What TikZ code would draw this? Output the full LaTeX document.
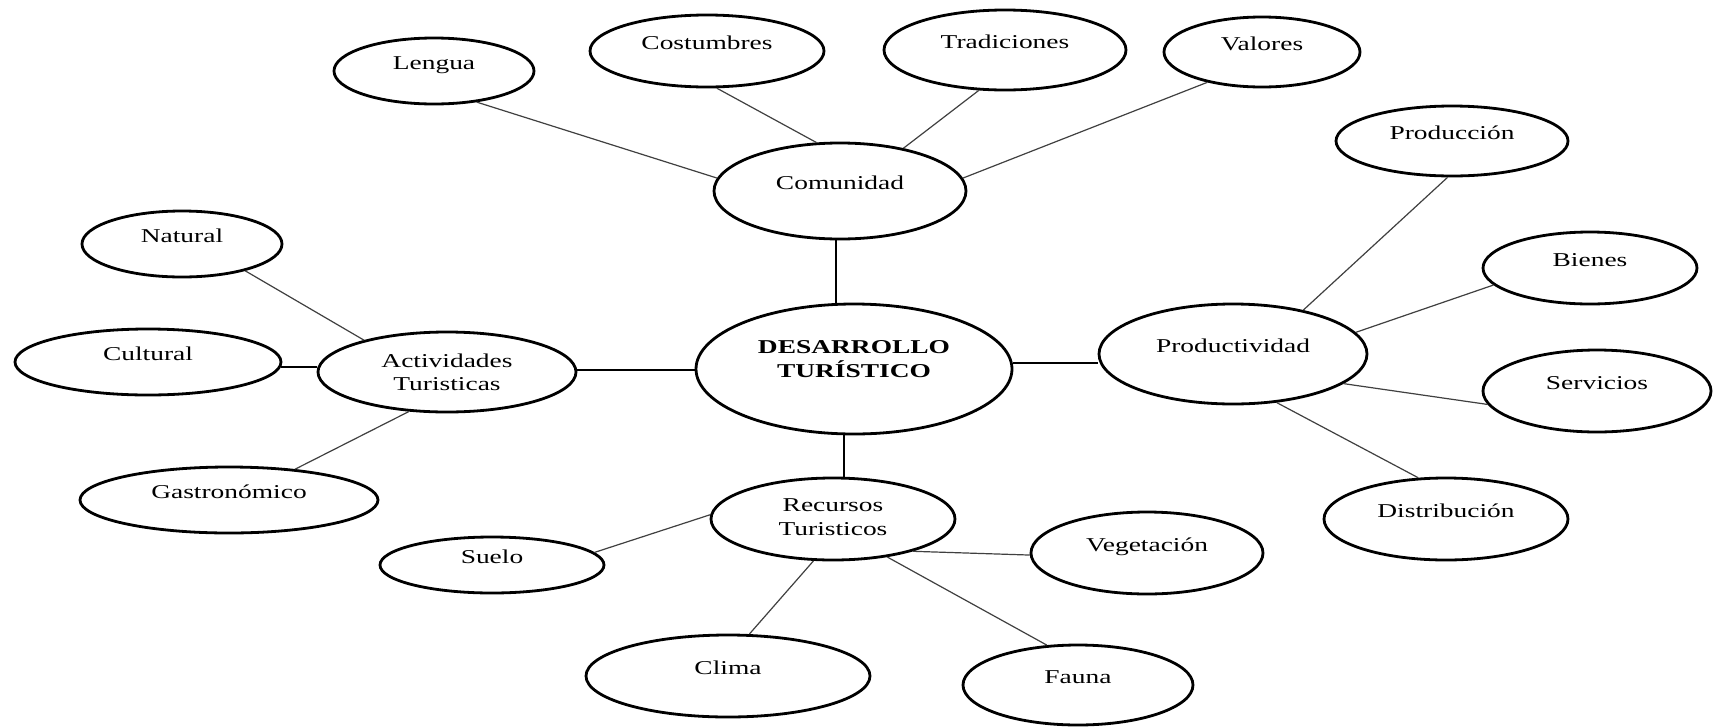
\documentclass[tikz,border=0pt]{standalone}
\usepackage{fontspec}
\setmainfont{Liberation Serif}[FakeStretch=1.4]
\usetikzlibrary{shapes.geometric}
\newcommand{\fsz}{\fontsize{19.6}{23.5}\selectfont}
\begin{document}
\begin{tikzpicture}[x=1pt,y=-1pt,
  ell/.style={ellipse, draw, line width=2.8pt, inner sep=0pt, font=\fsz},
  one/.style={ell, text height=12pt, text depth=15pt},
  thinline/.style={draw=black!75, line width=1.2pt},
  thickline/.style={draw=black, line width=2pt}]
\fill[white] (0,0) rectangle (1716,726);
\useasboundingbox (0,0) rectangle (1716,726);

\node[one, minimum width=200pt, minimum height=66pt] (lengua) at (434,71) {Lengua};
\node[one, minimum width=234pt, minimum height=72pt] (costumbres) at (707,51) {Costumbres};
\node[one, minimum width=242pt, minimum height=80pt] (tradiciones) at (1005,50) {Tradiciones};
\node[one, minimum width=196pt, minimum height=70pt] (valores) at (1262,52) {Valores};
\node[one, minimum width=252pt, minimum height=96pt] (comunidad) at (840,191) {Comunidad};
\node[one, minimum width=232pt, minimum height=70pt] (produccion) at (1452,141) {Producción};
\node[one, minimum width=214pt, minimum height=72pt] (bienes) at (1590,268) {Bienes};
\node[one, minimum width=200pt, minimum height=66pt] (natural) at (182,244) {Natural};
\node[one, minimum width=266pt, minimum height=66pt] (cultural) at (148,362) {Cultural};
\node[ell, minimum width=258pt, minimum height=80pt, text height=20pt, text depth=4.6pt] (actividades) at (447,372) {\begin{tabular}{@{}c@{}}Actividades\\Turisticas\end{tabular}};
\node[ell, minimum width=316pt, minimum height=130pt, text height=8pt, text depth=13.6pt, font=\fsz\bfseries] (desarrollo) at (854,369) {\begin{tabular}{@{}c@{}}DESARROLLO\\TURÍSTICO\end{tabular}};
\node[one, minimum width=268pt, minimum height=100pt] (productividad) at (1233,354) {Productividad};
\node[one, minimum width=228pt, minimum height=82pt] (servicios) at (1597,391) {Servicios};
\node[one, minimum width=244pt, minimum height=82pt] (distribucion) at (1446,519) {Distribución};
\node[one, minimum width=298pt, minimum height=66pt] (gastronomico) at (229,500) {Gastronómico};
\node[ell, minimum width=244pt, minimum height=82pt, text height=16pt, text depth=5.6pt] (recursos) at (833,519) {\begin{tabular}{@{}c@{}}Recursos\\Turisticos\end{tabular}};
\node[one, minimum width=224pt, minimum height=56pt] (suelo) at (492,565) {Suelo};
\node[one, minimum width=284pt, minimum height=82pt] (clima) at (728,676) {Clima};
\node[one, minimum width=232pt, minimum height=82pt] (vegetacion) at (1147,553) {Vegetación};
\node[one, minimum width=230pt, minimum height=80pt] (fauna) at (1078,685) {Fauna};

\draw[thinline] (lengua.-36) -- (comunidad.174);
\draw[thinline] (costumbres.-75) -- (comunidad.116);
\draw[thinline] (tradiciones.-123) -- (comunidad.34);
\draw[thinline] (valores.-151) -- (comunidad.6);
\draw[thickline] (comunidad.-95) -- (comunidad.-95 |- desarrollo.north);
\draw[thinline] (natural.-23) -- (actividades.159);
\draw[thickline] (cultural.-2.6) -- (cultural.-2.6 -| actividades.west);
\draw[thinline] (actividades.-134) -- (gastronomico.25);
\draw[thickline] (actividades.1.8) -- (actividades.1.8 -| desarrollo.west);
\draw[thickline] (desarrollo.2.6) -- (desarrollo.2.6 -| productividad.west);
\draw[thickline] (recursos.75) -- (recursos.75 |- desarrollo.south);
\draw[thinline] (produccion.-97) -- (productividad.32);
\draw[thinline] (bienes.190.8) -- (productividad.10);
\draw[thinline] (productividad.-15) -- (servicios.187.6);
\draw[thinline] (productividad.-48.5) -- (distribucion.124);
\draw[thinline] (recursos.178) -- (suelo.7);
\draw[thinline] (recursos.-115) -- (clima.63);
\draw[thinline] (recursos.-22) -- (vegetacion.181.5);
\draw[thinline] (recursos.-35.5) -- (fauna.128);
\end{tikzpicture}
\end{document}
